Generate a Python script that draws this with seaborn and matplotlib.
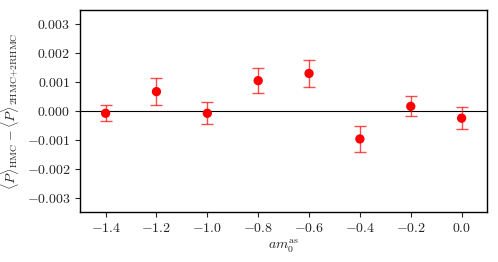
import numpy as np
import pandas as pd
import matplotlib
matplotlib.use("Agg")
import matplotlib.pyplot as plt
import seaborn as sns

# ---------- Data ----------
am0 = [-1.4, -1.2, -1.0, -0.8, -0.6, -0.4, -0.2, 0.0]
diff = [-0.00008, 0.00067, -0.00008, 0.00105, 0.00130, -0.00097, 0.00016, -0.00025]
err = [0.00027, 0.00046, 0.00038, 0.00043, 0.00048, 0.00046, 0.00035, 0.00039]
xticks = [-1.4, -1.2, -1.0, -0.8, -0.6, -0.4, -0.2, 0.0]
yticks = [-0.003, -0.002, -0.001, 0.0, 0.001, 0.002, 0.003]

df = pd.DataFrame({"am0": am0, "diff": diff, "err": err})

# ---------- Theme ----------
sns.set_style("ticks")
plt.rcParams["font.family"] = ["cmr10", "DejaVu Serif"]
plt.rcParams["mathtext.fontset"] = "cm"
plt.rcParams["axes.formatter.use_mathtext"] = True
plt.rcParams["font.size"] = 10

fig = plt.figure(figsize=(4.98, 2.62), dpi=100)
ax = fig.add_axes([0.161, 0.191, 0.817, 0.771])

ax.axhline(0, color="black", lw=0.8, zorder=1)
ax.errorbar(df["am0"], df["diff"], yerr=df["err"], fmt="none",
            ecolor="red", elinewidth=1, capsize=4, capthick=1, alpha=0.7, zorder=2)
sns.scatterplot(data=df, x="am0", y="diff", color="red", s=45,
                edgecolor="none", ax=ax, zorder=3)

ax.set_xlim(-1.5, 0.1)
ax.set_ylim(-0.0035, 0.0035)
ax.set_xticks(xticks)
ax.set_yticks(yticks)
ax.set_xticklabels([f"${v:.1f}$" for v in xticks])
ax.set_yticklabels([f"${v:.3f}$" for v in yticks])
ax.set_xlabel(r"$am_0^{\mathrm{as}}$", labelpad=2)
ax.set_ylabel(r"$\langle P\rangle_{\mathrm{HMC}} - \langle P\rangle_{\mathrm{2HMC{+}2RHMC}}$", labelpad=4)

for s in ax.spines.values():
    s.set_color("black")
    s.set_linewidth(1)

fig.savefig("out.png", dpi=100)
